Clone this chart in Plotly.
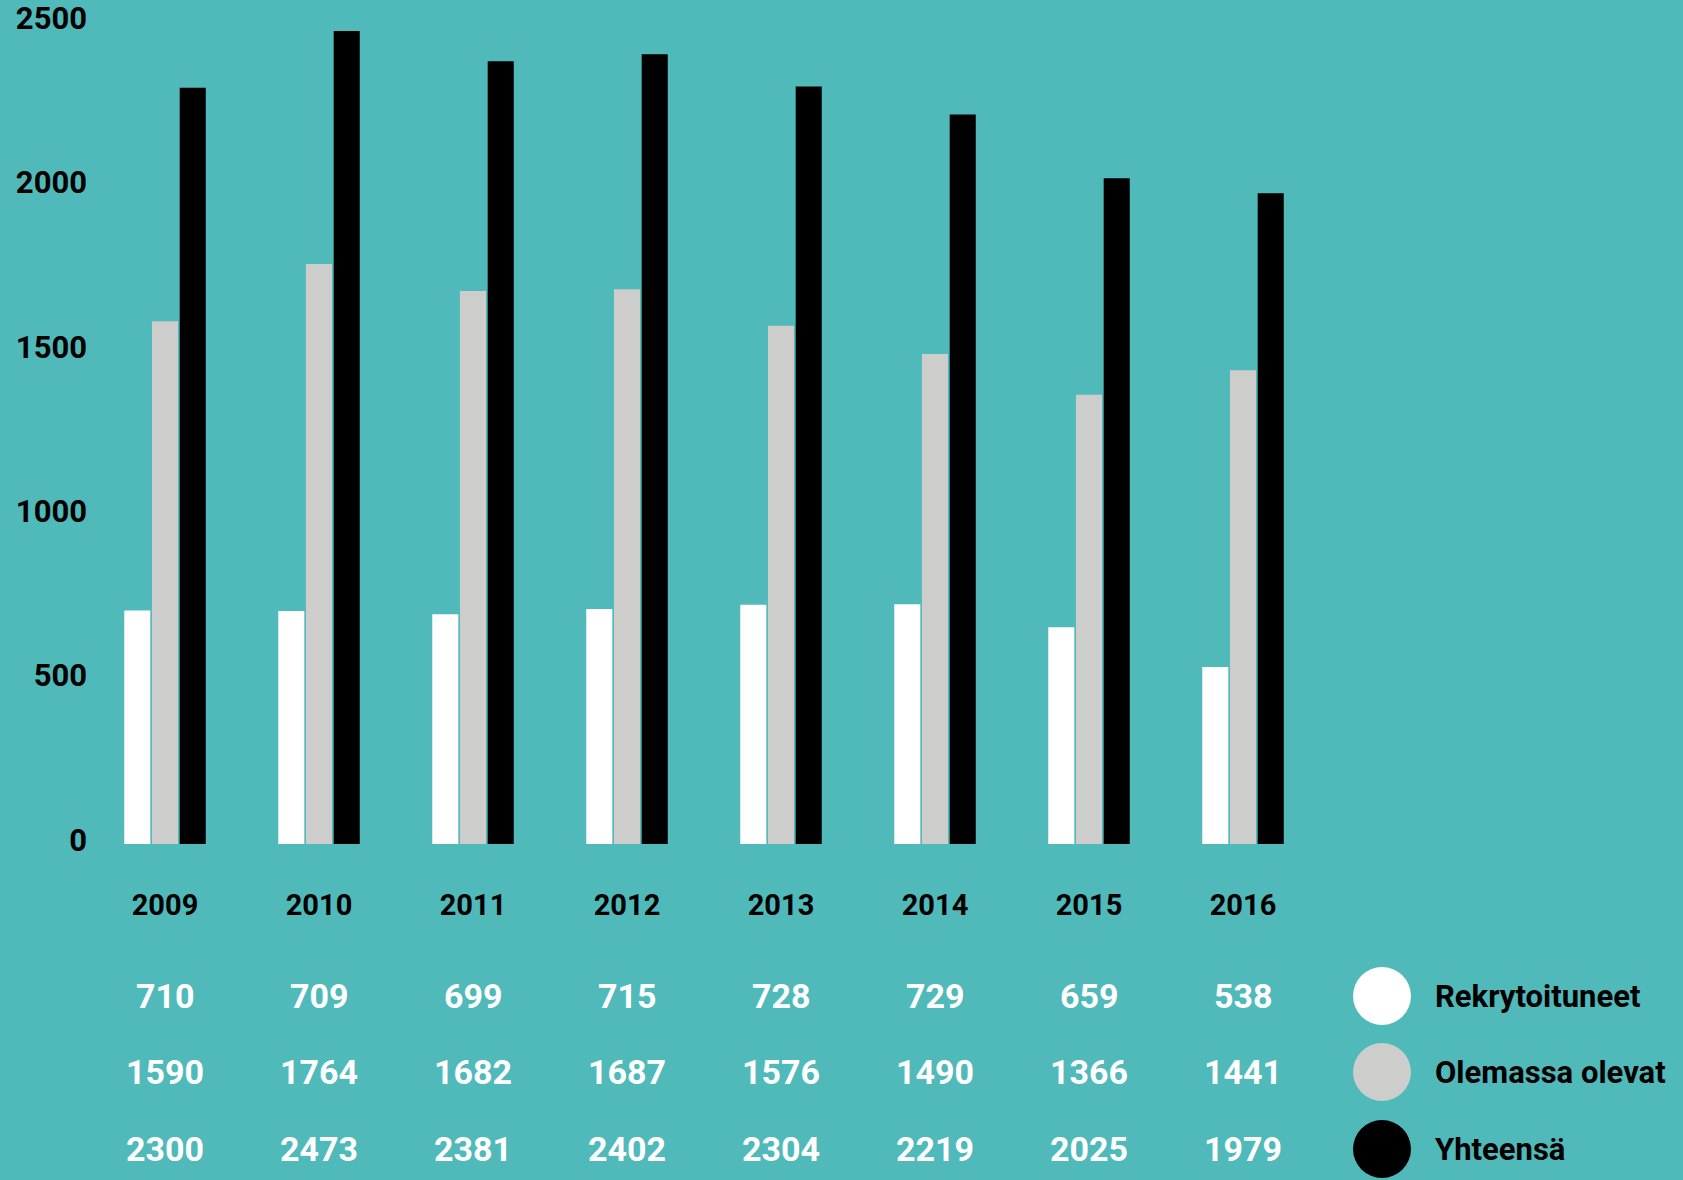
import plotly.graph_objects as go

years = ['2009', '2010', '2011', '2012', '2013', '2014', '2015', '2016']
rekrytoituneet = [710, 709, 699, 715, 728, 729, 659, 538]
olemassa_olevat = [1590, 1764, 1682, 1687, 1576, 1490, 1366, 1441]
yhteensa = [2300, 2473, 2381, 2402, 2304, 2219, 2025, 1979]
series_names = ['Rekrytoituneet', 'Olemassa olevat', 'Yhteensä']
series_colors = ['#ffffff', '#cdcdcb', '#000000']
y_ticks = [0, 500, 1000, 1500, 2000, 2500]

bg = '#50b9ba'
W, H = 1683, 1180
L, R, T, B = 88, 363, 22, 336
pw, ph = W - L - R, H - T - B

# pixel -> paper helpers for the table/legend block below the plot
px = lambda x: (x - L) / pw
py = lambda y: (H - B - y) / ph

fig = go.Figure()
for name, vals, col in zip(series_names, [rekrytoituneet, olemassa_olevat, yhteensa], series_colors):
    fig.add_trace(go.Bar(x=years, y=vals, name=name, marker=dict(color=col, line=dict(width=0)),
                         showlegend=False))

fig.update_layout(
    width=W, height=H,
    margin=dict(l=L, r=R, t=T, b=B, autoexpand=False),
    paper_bgcolor=bg, plot_bgcolor=bg,
    barmode='group', bargap=0.46, bargroupgap=0.06,
    font=dict(family='Roboto', color='black'),
)
fig.update_xaxes(type='category', range=[-0.5, len(years) - 0.5], showgrid=False,
                 zeroline=False, showline=False, ticks='',
                 tickfont=dict(size=29, weight=700, color='black'),
                 ticklabelstandoff=41, automargin=False)
fig.update_yaxes(range=[0, 2500], tickvals=y_ticks, showgrid=False, zeroline=False,
                 showline=False, ticks='', tickfont=dict(size=31, weight=700, color='black'),
                 ticklabelshift=-4, ticklabelstandoff=0, ticklabeloverflow='allow',
                 automargin=False)

# value table under the years
row_y = [996, 1072, 1149]
for vals, yy in zip([rekrytoituneet, olemassa_olevat, yhteensa], row_y):
    for i, v in enumerate(vals):
        fig.add_annotation(x=i, xref='x', y=py(yy), yref='paper', text=str(v), showarrow=False,
                           font=dict(size=34, weight=700, color='white'),
                           xanchor='center', yanchor='middle')

# legend: big circles + labels
r = 29
for name, col, yy in zip(series_names, series_colors, row_y):
    cx = 1382
    fig.add_shape(type='circle', xref='paper', yref='paper',
                  x0=px(cx - r), x1=px(cx + r), y0=py(yy + r), y1=py(yy - r),
                  fillcolor=col, line=dict(width=0))
    fig.add_annotation(x=px(1433), xref='paper', y=py(yy), yref='paper', text=name,
                       showarrow=False, xanchor='left', yanchor='middle',
                       font=dict(size=31, weight=700, color='black'))

fig.write_html("out.html", config=dict(displayModeBar=False),
               post_script="document.body.style.margin='0';")
